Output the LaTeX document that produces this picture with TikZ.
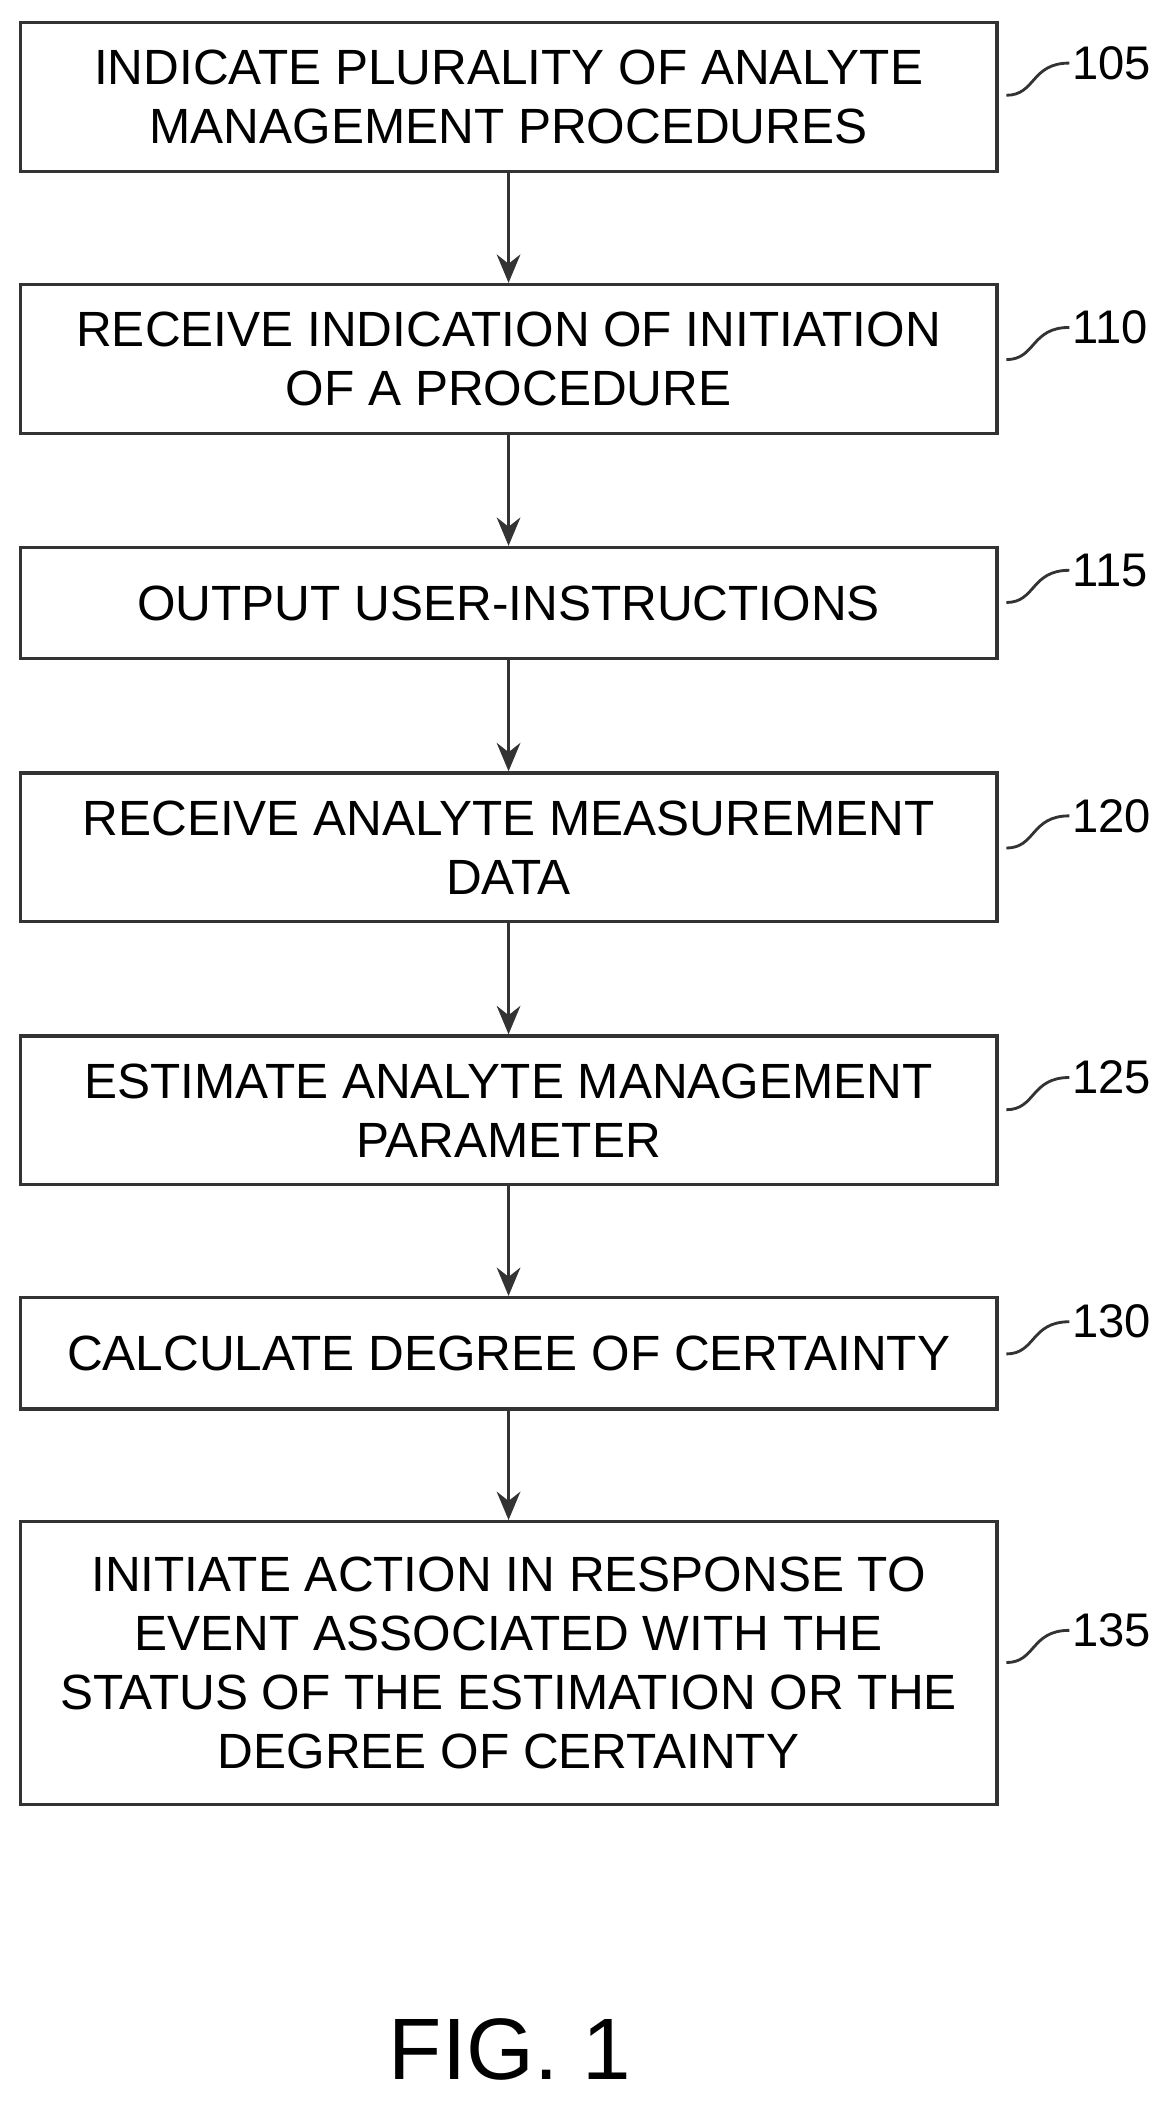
\documentclass[tikz,border=0pt]{standalone}
\usepackage{fontspec}
\setmainfont{Liberation Sans}
\usetikzlibrary{arrows.meta}
\tikzset{
  stepbox/.style={draw=black!80, line width=1.4pt, minimum width=14.56cm, align=center,
    font=\fontsize{21}{25}\selectfont, inner sep=0pt},
  ref/.style={font=\fontsize{20}{22}\selectfont, anchor=west, inner sep=1pt},
  flow/.style={-{Stealth[length=12pt,width=10pt]}, draw=black!80, line width=1.4pt},
  lead/.style={draw=black!80, line width=1.2pt}
}
\begin{document}
\begin{tikzpicture}[x=0.02cm,y=0.02cm]
            \useasboundingbox (0,0) rectangle (870,-1568);
            % process steps
            \node[stepbox, minimum height=2.22cm] (s105) at (379,-72.5) {INDICATE PLURALITY OF ANALYTE\\MANAGEMENT PROCEDURES};
            \node[stepbox, minimum height=2.22cm] (s110) at (379,-267.5) {RECEIVE INDICATION OF INITIATION\\OF A PROCEDURE};
            \node[stepbox, minimum height=1.66cm] (s115) at (379,-449.5) {OUTPUT USER-INSTRUCTIONS};
            \node[stepbox, minimum height=2.22cm] (s120) at (379,-631.5) {RECEIVE ANALYTE MEASUREMENT\\DATA};
            \node[stepbox, minimum height=2.22cm] (s125) at (379,-827.5) {ESTIMATE ANALYTE MANAGEMENT\\PARAMETER};
            \node[stepbox, minimum height=1.66cm] (s130) at (379,-1008.5) {CALCULATE DEGREE OF CERTAINTY};
            \node[stepbox, minimum height=4.22cm] (s135) at (379,-1239.5) {INITIATE ACTION IN RESPONSE TO\\EVENT ASSOCIATED WITH THE\\STATUS OF THE ESTIMATION OR THE\\DEGREE OF CERTAINTY};

            % arrows between steps
            \draw[flow] (s105) -- (s110);
            \draw[flow] (s110) -- (s115);
            \draw[flow] (s115) -- (s120);
            \draw[flow] (s120) -- (s125);
            \draw[flow] (s125) -- (s130);
            \draw[flow] (s130) -- (s135);

            % reference numerals
            \foreach \n/\y in {105/-47, 110/-244, 115/-425, 120/-608, 125/-803, 130/-985, 135/-1215} {
              \node[ref] (r\n) at (797,\y) {\n};
              \coordinate (c\n) at (750,\y-24);
              \draw[lead] (c\n) .. controls (772,\y-24) and (768,\y) .. (r\n.west);
            }

            \node[font=\fontsize{37}{42}\selectfont] (fig) at (380,-1527) {FIG. 1};
        \end{tikzpicture}
\end{document}
